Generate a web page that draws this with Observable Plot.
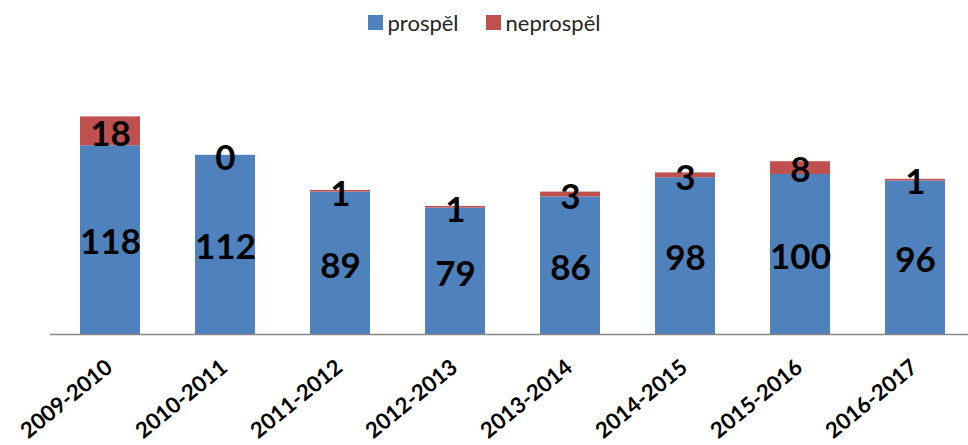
<!DOCTYPE html>
<html><head><meta charset="utf-8">
<script src="https://cdn.jsdelivr.net/npm/d3@7"></script>
<script src="https://cdn.jsdelivr.net/npm/@observablehq/plot@0.6"></script>
<style>
body{margin:0;background:#fff;}
#legend{height:45px;display:flex;justify-content:center;align-items:center;font-family:Lato,sans-serif;font-size:22px;color:#262626;}
.item{display:flex;align-items:center;}
.item + .item{margin-left:27px;}
.sw{width:15px;height:15px;margin-right:5px;}
#chart svg{display:block;}
</style></head><body>
<div id="legend"></div><div id="chart"></div>
<script>
const years = ["2009-2010","2010-2011","2011-2012","2012-2013","2013-2014","2014-2015","2015-2016","2016-2017"];
const prospel = [118,112,89,79,86,98,100,96];
const neprospel = [18,0,1,1,3,3,8,1];
const series = ["prospěl","neprospěl"];
const colors = ["#4F81BD","#C0504D"];

const data = years.flatMap((y,i)=>[
  {year:y, status:series[0], value:prospel[i], mid:prospel[i]/2},
  {year:y, status:series[1], value:neprospel[i], mid:prospel[i]+neprospel[i]/2}
]);

const legend = document.getElementById("legend");
series.forEach((s,i)=>{
  const it = document.createElement("div"); it.className="item";
  const sw = document.createElement("div"); sw.className="sw"; sw.style.background=colors[i];
  const t = document.createElement("span"); t.textContent=s;
  it.appendChild(sw); it.appendChild(t); legend.appendChild(it);
});

const chart = Plot.plot({
  width: 968, height: 400,
  marginLeft: 50, marginRight: 0, marginTop: 33, marginBottom: 111,
  style: {fontFamily: "Lato, sans-serif", background: "#fff"},
  x: {domain: years, range: [50.5, 975], paddingInner: 0.48, paddingOuter: 0.24, axis: null},
  y: {domain: [0, 160], axis: null},
  color: {domain: series, range: colors},
  marks: [
    Plot.barY(data, Plot.stackY({x: "year", y: "value", fill: "status", order: series})),
    Plot.ruleY([0], {stroke: "#868686", strokeWidth: 1.3}),
    Plot.text(data, {x: "year", y: "mid", text: d => String(d.value), fontSize: 35, fontWeight: "bold", fill: "#000", dy: 3}),
    Plot.text(years, {x: d => d, y: 0, text: d => d, rotate: -39, textAnchor: "end", dy: 30, dx: -1, fontSize: 22, fontWeight: "bold", fill: "#000"})
  ]
});
document.getElementById("chart").appendChild(chart);
</script>
</body></html>
